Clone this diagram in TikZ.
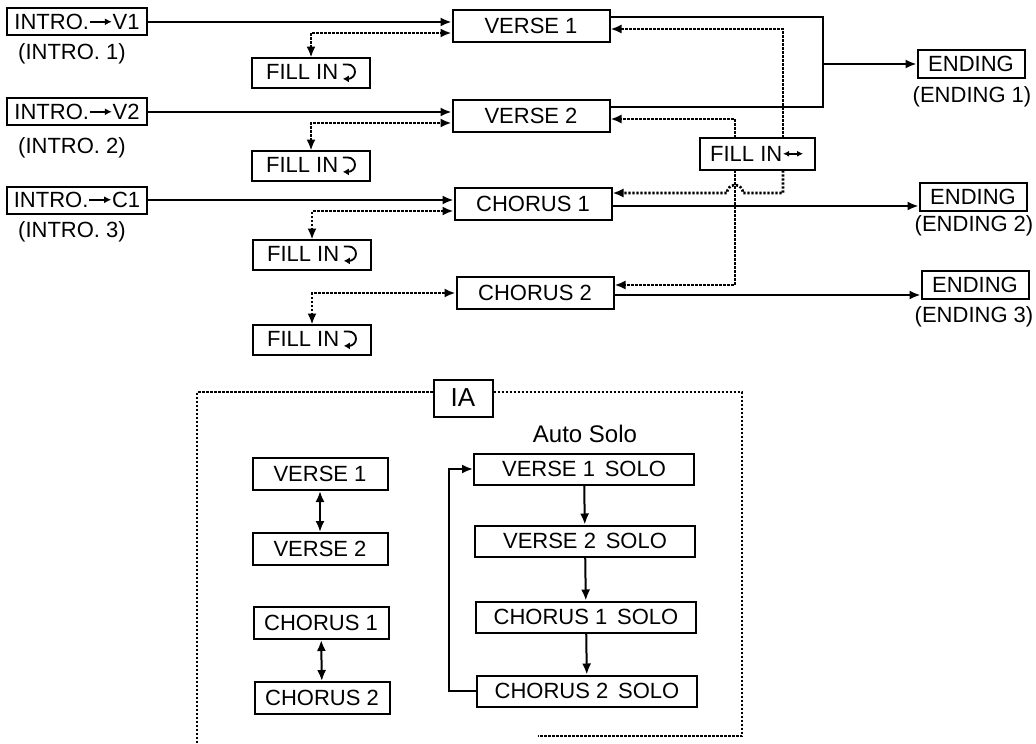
\documentclass[tikz,border=0pt]{standalone}
\usepackage{fontspec}
\setmainfont{Liberation Sans}
\usepackage{tikz}
\usetikzlibrary{arrows.meta}
\usetikzlibrary{positioning}

\newcommand{\retsym}{\tikz[baseline=0pt,line width=0.9pt]\draw[-{Latex[length=3pt,width=3.5pt]}] (0pt,7.5pt) -- (2.5pt,7.5pt) arc[start angle=90,end angle=-90,radius=3.6pt] -- (0pt,0.3pt);}
\newcommand{\toarr}{\tikz[baseline=0pt,line width=0.8pt]\draw[-{Latex[length=3.5pt,width=3.5pt]}] (0pt,3.9pt) -- (11pt,3.9pt);}
\newcommand{\bothsym}{\tikz[baseline=0pt,line width=0.8pt]\draw[{Latex[length=3pt,width=3pt]}-{Latex[length=3pt,width=3pt]}] (0pt,3.9pt) -- (10pt,3.9pt);}

\begin{document}
\begin{tikzpicture}[x=0.5pt,y=-0.5pt,line width=1pt,
    font=\fontsize{11}{13}\selectfont,
    >={Latex[length=5.5pt,width=4.5pt]},
    box/.style={draw,inner xsep=2pt,inner ysep=0pt},
    introbox/.style={box,minimum width=70pt,minimum height=13.5pt},
    partbox/.style={box,minimum width=78.5pt,minimum height=16pt},
    fillbox/.style={box,minimum width=59pt,minimum height=15pt},
    endbox/.style={box,minimum width=53.5pt,minimum height=14pt},
    pairbox/.style={box,minimum width=67.5pt,minimum height=16pt},
    solobox/.style={box,minimum width=110pt,minimum height=15.5pt},
    iabox/.style={box,font=\fontsize{13}{15}\selectfont,minimum width=29.5pt,minimum height=18.5pt},
    dotline/.style={line width=1.3pt,dash pattern=on 1.1pt off 0.9pt}]
    \useasboundingbox (0,0) rectangle (1036,743);

    \node[introbox] (i1) at (77,22) {INTRO.\toarr V1};
    \node (i1l) at (72,54) {(INTRO. 1)};
    \node[introbox] (i2) at (77,112) {INTRO.\toarr V2};
    \node (i2l) at (72,148) {(INTRO. 2)};
    \node[introbox] (i3) at (77,200) {INTRO.\toarr C1};
    \node (i3l) at (72,232) {(INTRO. 3)};

    \node[partbox] (v1) at (531,26) {VERSE 1};
    \node[partbox] (v2) at (531,116) {VERSE 2};
    \node[partbox] (c1) at (533,204) {CHORUS 1};
    \node[partbox] (c2) at (535,293) {CHORUS 2};

    \node[fillbox] (f1) at (311,73) {FILL IN\,\retsym};
    \node[fillbox] (f2) at (311,166) {FILL IN\,\retsym};
    \node[fillbox] (f3) at (312,255) {FILL IN\,\retsym};
    \node[fillbox] (f4) at (312,340) {FILL IN\,\retsym};
    \node[fillbox,minimum width=57.5pt,minimum height=16pt] (fb) at (757,154) {FILL IN\bothsym};

    \node[endbox] (e1) at (971,64) {ENDING};
    \node (e1l) at (972,97) {(ENDING 1)};
    \node[endbox] (e2) at (973,197) {ENDING};
    \node (e2l) at (974,226) {(ENDING 2)};
    \node[endbox] (e3) at (975,285) {ENDING};
    \node (e3l) at (974,317) {(ENDING 3)};

    \draw[->] (i1.east) -- (i1.east -| v1.west);
    \draw[->] (i2.east) -- (i2.east -| v2.west);
    \draw[->] (i3.east) -- (i3.east -| c1.west);
    \draw[dotline,<->] (f1.north) |- ([yshift=-3.5pt]v1.west);
    \draw[dotline,<->] (f2.north) |- ([yshift=-3.5pt]v2.west);
    \draw[dotline,<->] (f3.north) |- ([yshift=-3.5pt]c1.west);
    \draw[dotline,<->] (f4.north) |- (c2.west);

    \coordinate (jn) at (823,64);
    \draw ([yshift=4.5pt]v1.east) -| (jn) |- ([yshift=4.5pt]v2.east);
    \draw[->] (jn) -- (e1.west);

    \draw[dotline,->] ([xshift=13pt]fb.north) |- ([yshift=-1.5pt]v1.east);
    \draw[dotline,->] ([xshift=-11pt]fb.north) |- ([yshift=-1.5pt]v2.east);
    \coordinate (hop) at (735,193);
    \draw[dotline,->] ([xshift=13pt]fb.south) |- ([xshift=4pt]hop)
        arc[start angle=0,end angle=180,radius=4pt] -- ([yshift=5.5pt]c1.east);
    \draw[dotline,->] ([xshift=-11pt]fb.south) |- ([yshift=4pt]c2.east);
    \draw[->] ([yshift=-1pt]c1.east) -- ([yshift=-1pt]c1.east -| e2.west);
    \draw[->] ([yshift=-1pt]c2.east) -- ([yshift=-1pt]c2.east -| e3.west);

    \node[iabox] (ia) at (463,398) {IA};
    \draw[dotline] ([yshift=3pt]ia.west) -- (197,392) -- (197,743);
    \draw[dotline] ([yshift=3pt]ia.east) -- (742,392) -- (742,736) -- (538,736);

    \node[pairbox] (l1) at (320,474) {VERSE 1};
    \node[pairbox] (l2) at (320,549) {VERSE 2};
    \node[pairbox] (l3) at (321,623) {CHORUS 1};
    \node[pairbox] (l4) at (322,698) {CHORUS 2};
    \draw[<->] (l1) -- (l2);
    \draw[<->] (l3) -- (l4);

    \node[font=\fontsize{12}{14}\selectfont] (auto) at (585,434) {Auto Solo};
    \node[solobox] (s1) at (584,469) {VERSE 1\, SOLO};
    \node[solobox] (s2) at (585,541) {VERSE 2\, SOLO};
    \node[solobox] (s3) at (586,617) {CHORUS 1\, SOLO};
    \node[solobox] (s4) at (587,691) {CHORUS 2\, SOLO};
    \draw[->] (s1) -- (s2);
    \draw[->] (s2) -- (s3);
    \draw[->] (s3) -- (s4);
    \draw[->] (s4.west) -- ++(-13.5pt,0) |- (s1.west);
\end{tikzpicture}
\end{document}
